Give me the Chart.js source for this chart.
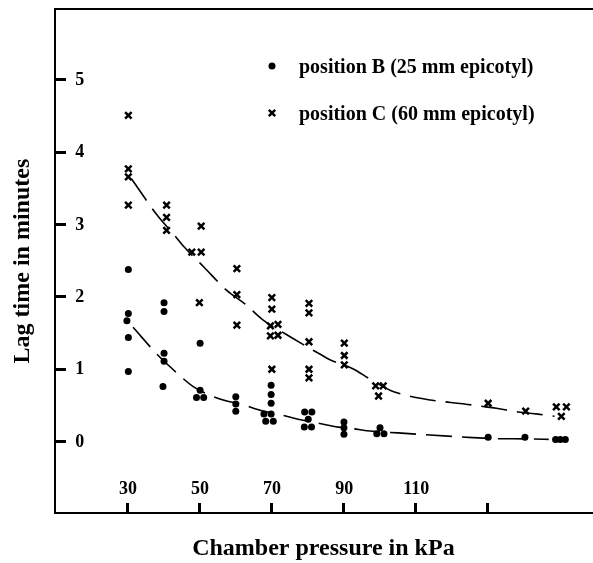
<!DOCTYPE html>
<html><head><meta charset="utf-8">
<script src="https://cdn.jsdelivr.net/npm/chart.js@4.4.1/dist/chart.umd.min.js"></script>
<style>html,body{margin:0;padding:0;background:#fff}#wrap{width:593px;height:563px}</style>
</head><body><div id="wrap"><canvas id="c" width="593" height="563"></canvas></div>
<script>
// Axis ticks
const xTickValues = [30, 50, 70, 90, 110, 130];
const xTickLabels = ['30', '50', '70', '90', '110', ''];
const yTickValues = [0, 1, 2, 3, 4, 5];
const yTickLabels = ['0', '1', '2', '3', '4', '5'];

// Series labels
const seriesLabels = ['position B (25 mm epicotyl)', 'position C (60 mm epicotyl)'];

// position B (dots)
const posBx = [30.4, 30.4, 30, 30.4, 30.4,
  40.3, 40.3, 40.3, 40.3, 40,
  50.3, 50.3, 49.3, 51.3,
  60.2, 60.2, 60.2,
  70, 70, 70, 68, 70, 68.5, 70.6,
  79.3, 81.3, 80.3, 79.2, 81.2,
  90.2, 90.2, 90.2,
  100.2, 99.3, 101.3,
  130.2, 140.4, 148.9, 150.2, 151.6];
const posBy = [2.37, 1.76, 1.66, 1.43, 0.96,
  1.91, 1.79, 1.21, 1.10, 0.75,
  1.35, 0.70, 0.60, 0.60,
  0.61, 0.51, 0.41,
  0.77, 0.64, 0.52, 0.37, 0.37, 0.27, 0.27,
  0.40, 0.40, 0.30, 0.19, 0.19,
  0.26, 0.18, 0.09,
  0.18, 0.10, 0.10,
  0.05, 0.05, 0.02, 0.02, 0.02];

// position C (crosses)
const posCx = [30.4, 30.4, 30.4, 30.4,
  41, 41, 41,
  50.6, 48, 50.6, 50.1,
  60.5, 60.5, 60.5,
  70.2, 70.2, 69.8, 71.9, 69.8, 71.9, 70.2,
  80.5, 80.5, 80.5, 80.5, 80.5,
  90.3, 90.3, 90.3,
  99, 101.1, 99.8,
  130.2, 140.6, 149.1, 151.9, 150.5];
const posCy = [4.50, 3.76, 3.65, 3.26,
  3.26, 3.09, 2.91,
  2.97, 2.61, 2.61, 1.91,
  2.38, 2.02, 1.60,
  1.98, 1.82, 1.59, 1.61, 1.45, 1.46, 0.99,
  1.90, 1.77, 1.37, 0.99, 0.87,
  1.35, 1.18, 1.05,
  0.76, 0.76, 0.62,
  0.52, 0.41, 0.47, 0.47, 0.34];

// fitted dashed curves
const curveBx = [31.7, 38.7, 42.5, 48.4, 53.1, 57.7, 61.6, 66.5, 72.7, 77.5, 83.5, 88.6, 92.5, 96.5, 105.2, 126, 133.4, 137.1, 142.6, 147];
const curveBy = [1.57, 1.18, 1.00, 0.75, 0.63, 0.55, 0.51, 0.43, 0.36, 0.30, 0.24, 0.19, 0.17, 0.14, 0.11, 0.045, 0.03, 0.03, 0.025, 0.02];
const curveCx = [31.3, 38.7, 42.9, 45.9, 51.4, 57.7, 62.8, 67.8, 73.9, 78.6, 83.5, 86.3, 92.5, 97.9, 104, 126.5, 132.5, 138.5, 144, 148.6];
const curveCy = [3.62, 3.10, 2.86, 2.68, 2.40, 2.08, 1.89, 1.67, 1.48, 1.34, 1.20, 1.12, 1.00, 0.84, 0.68, 0.49, 0.45, 0.40, 0.37, 0.34];

const zip = (xs, ys) => xs.map((x, i) => ({x: x, y: ys[i]}));
const FONT = '"Liberation Serif", "Times New Roman", serif';

const framePlugin = {
  id: 'framePlugin',
  afterDraw(chart) {
    const ctx = chart.ctx;
    const a = chart.chartArea;
    const xs = chart.scales.x, ys = chart.scales.y;
    ctx.save();
    ctx.setLineDash([]);
    ctx.globalAlpha = 1;
    ctx.globalCompositeOperation = 'source-over';
    ctx.fillStyle = '#000000';
    // top border
    ctx.fillRect(Math.round(a.left) - 1, Math.round(a.top) - 1, Math.round(a.right - a.left) + 3, 2);
    // inward tick marks
    ctx.fillStyle = '#000000';
    yTickValues.forEach((v) => {
      const py = Math.round(ys.getPixelForValue(v));
      ctx.fillRect(Math.round(a.left), py - 1, 11, 3);
    });
    xTickValues.forEach((v) => {
      const px = Math.round(xs.getPixelForValue(v));
      ctx.fillRect(px - 1, Math.round(a.bottom) - 10, 3, 10);
    });
    // tick labels inside the frame
    ctx.fillStyle = '#000000';
    ctx.font = 'bold 18px ' + FONT;
    ctx.textAlign = 'center'; ctx.textBaseline = 'middle';
    yTickValues.forEach((v, i) => {
      const py = ys.getPixelForValue(v);
      ctx.fillText(yTickLabels[i], a.left + 25, py + 1);
    });
    xTickValues.forEach((v, i) => {
      const px = xs.getPixelForValue(v);
      if (xTickLabels[i]) ctx.fillText(xTickLabels[i], px + 1, a.bottom - 24);
    });
    // legend
    const lx = 272, ly = [66, 113];
    ctx.font = 'bold 20px ' + FONT;
    ctx.textAlign = 'left';
    ctx.beginPath(); ctx.arc(lx, ly[0], 3.5, 0, Math.PI * 2); ctx.fill();
    ctx.fillText(seriesLabels[0], 299, ly[0] + 2);
    ctx.strokeStyle = '#000000';
    ctx.lineWidth = 2.5;
    const r = 3.2;
    ctx.beginPath();
    ctx.moveTo(lx - r, ly[1] - r); ctx.lineTo(lx + r, ly[1] + r);
    ctx.moveTo(lx - r, ly[1] + r); ctx.lineTo(lx + r, ly[1] - r);
    ctx.stroke();
    ctx.fillText(seriesLabels[1], 299, ly[1] + 2);
    ctx.restore();
  }
};

new Chart(document.getElementById('c'), {
  type: 'scatter',
  data: {
    datasets: [
      {label: 'curve B', data: zip(curveBx, curveBy), showLine: true, borderColor: '#000', borderWidth: 1.6,
        borderDash: [26, 10], pointRadius: 0, cubicInterpolationMode: 'monotone', fill: false, order: 2},
      {label: 'curve C', data: zip(curveCx, curveCy), showLine: true, borderColor: '#000', borderWidth: 1.6,
        borderDash: [26, 10], pointRadius: 0, cubicInterpolationMode: 'monotone', fill: false, order: 2},
      {label: seriesLabels[0], data: zip(posBx, posBy), pointStyle: 'circle', pointRadius: 3.5,
        backgroundColor: '#000', borderColor: '#000', borderWidth: 0, order: 1},
      {label: seriesLabels[1], data: zip(posCx, posCy), pointStyle: 'crossRot', pointRadius: 4.6,
        backgroundColor: '#000', borderColor: '#000', borderWidth: 2.5, order: 1}
    ]
  },
  options: {
    responsive: false,
    animation: false,
    devicePixelRatio: 1,
    layout: {padding: {top: 9, right: 1, left: 0, bottom: 0}, autoPadding: false},
    plugins: {legend: {display: false}, tooltip: {enabled: false}},
    scales: {
      x: {
        type: 'linear', min: 10, max: 159,
        grid: {display: false, drawTicks: false},
        border: {display: true, color: '#000', width: 2},
        ticks: {display: false},
        title: {display: true, text: 'Chamber pressure in kPa', color: '#000',
          font: {family: FONT, size: 24, weight: 'bold'}, padding: {top: 21, bottom: 0}}
      },
      y: {
        type: 'linear', min: -1, max: 5.97,
        grid: {display: false, drawTicks: false},
        border: {display: true, color: '#000', width: 2},
        ticks: {display: false},
        title: {display: true, text: 'Lag time in minutes', color: '#000',
          font: {family: FONT, size: 24, weight: 'bold'}, padding: {top: 8, bottom: 18}}
      }
    }
  },
  plugins: [framePlugin]
});
</script>
</body></html>
